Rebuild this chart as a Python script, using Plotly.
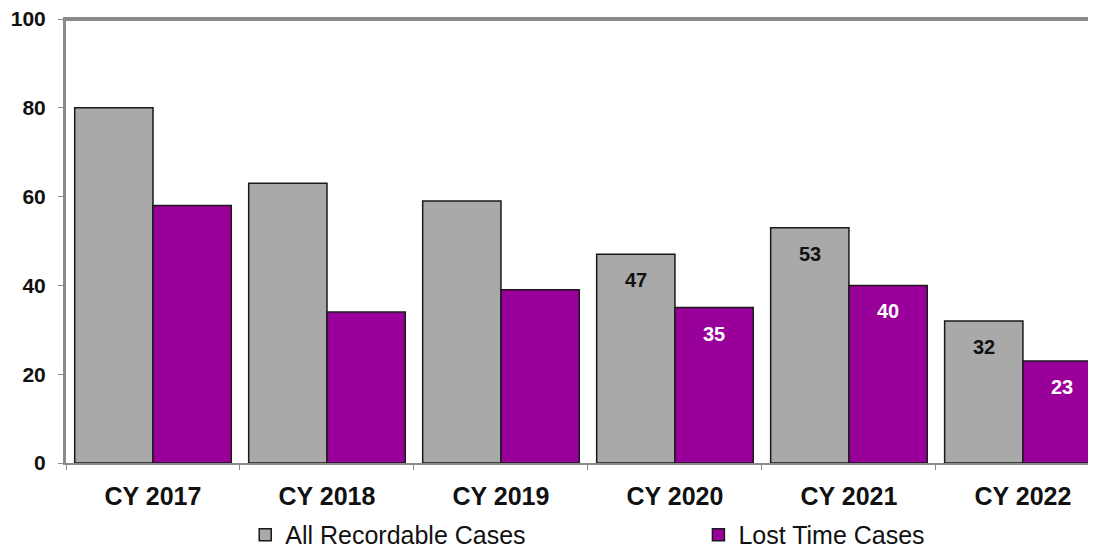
import plotly.graph_objects as go

categories = ["CY 2017", "CY 2018", "CY 2019", "CY 2020", "CY 2021", "CY 2022"]
all_recordable = [80, 63, 59, 47, 53, 32]
lost_time = [58, 34, 39, 35, 40, 23]
all_labels = ["", "", "", "47", "53", "32"]
lost_labels = ["", "", "", "35", "40", "23"]

fig = go.Figure()
fig.add_trace(go.Bar(
    x=categories, y=all_recordable, name="All Recordable Cases",
    marker=dict(color="#A9A9A9", line=dict(color="#1a1a1a", width=1.5)),
    legend="legend",
))
fig.add_trace(go.Bar(
    x=categories, y=lost_time, name="Lost Time Cases",
    marker=dict(color="#990099", line=dict(color="#1a1a1a", width=1.5)),
    legend="legend2",
))

half = 174 * 0.9 / 4  # half bar width in px (styling offset)
for cat, v, t in zip(categories, all_recordable, all_labels):
    if t:
        fig.add_annotation(x=cat, y=v, text=t, showarrow=False, xshift=-half, yshift=-26,
                           font=dict(family="Arial", size=20, color="#111111", weight="bold"))
for cat, v, t in zip(categories, lost_time, lost_labels):
    if t:
        fig.add_annotation(x=cat, y=v, text=t, showarrow=False, xshift=half, yshift=-26,
                           font=dict(family="Arial", size=20, color="#ffffff", weight="bold"))

legend_common = dict(orientation="h", yanchor="middle", xanchor="left",
                     font=dict(size=25, family="Arial", color="#111111"),
                     bgcolor="rgba(0,0,0,0)")
fig.update_layout(
    width=1088, height=544,
    margin=dict(l=58, r=0, t=11, b=89, autoexpand=False),
    paper_bgcolor="white", plot_bgcolor="white",
    barmode="group", bargap=0.1, bargroupgap=0,
    font=dict(family="Arial", color="#111111"),
    showlegend=True,
    legend=dict(x=0.174, y=-0.162, **legend_common),
    legend2=dict(x=0.614, y=-0.162, **legend_common),
)
fig.update_xaxes(
    range=[-0.5, 5.42], showline=True, linecolor="#8a8a8a", linewidth=2,
    ticks="outside", tickson="boundaries", ticklen=5, tickcolor="#8a8a8a",
    tickfont=dict(family="Arial", size=25, color="#111111", weight="bold"),
    showgrid=False, mirror=False, ticklabelstandoff=10, ticklabeloverflow="allow",
)
fig.update_yaxes(
    range=[0, 100], tickvals=[0, 20, 40, 60, 80, 100], showline=True,
    linecolor="#8a8a8a", linewidth=3, ticks="outside", ticklen=5, tickcolor="#8a8a8a",
    tickfont=dict(family="Arial", size=21, color="#111111", weight="bold"),
    showgrid=False, zeroline=False, ticklabelstandoff=8, ticklabeloverflow="allow",
)
fig.add_shape(type="line", xref="paper", yref="paper", x0=-0.003, x1=1, y0=1, y1=1,
              line=dict(color="#8a8a8a", width=4))

fig.write_html("out.html")
